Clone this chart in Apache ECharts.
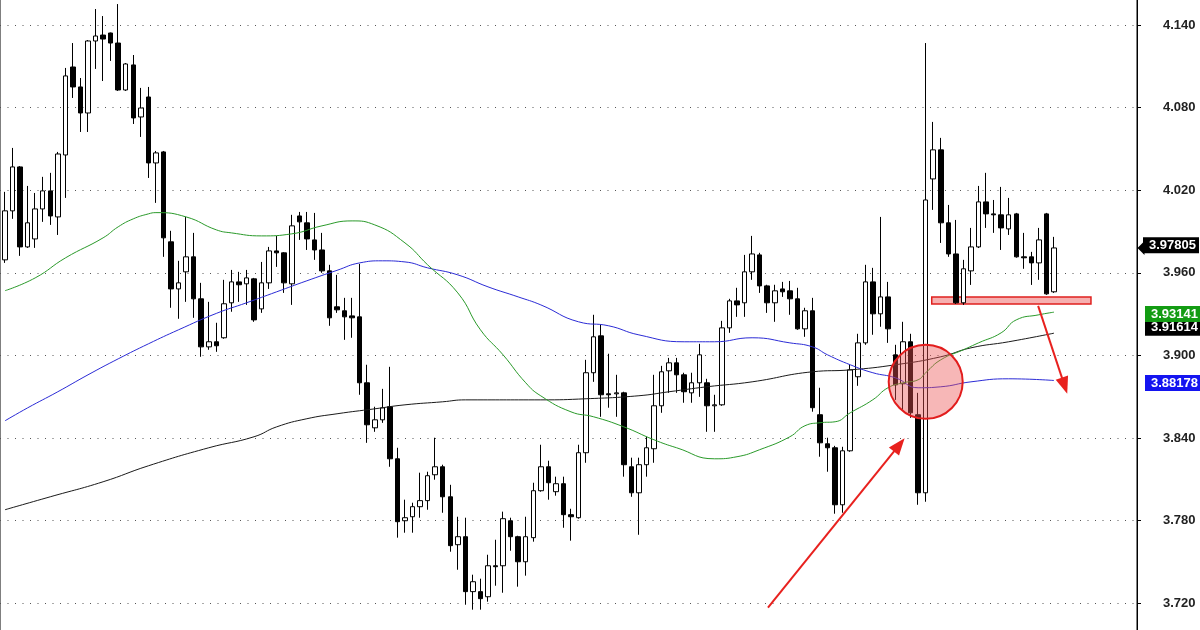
<!DOCTYPE html>
<html><head><meta charset="utf-8">
<script src="https://cdn.jsdelivr.net/npm/echarts@6/dist/echarts.min.js"></script>
<style>html,body{margin:0;padding:0;background:#fff}#c{width:1200px;height:630px}</style>
</head><body><div id="c"></div>
<script>
// ---- candle data (index = bar number) ----
const opens = [3.9694,4.0050,4.0369,3.9788,3.9846,4.0064,4.0195,4.0006,4.0456,4.1095,
4.0950,4.0761,4.1284,4.1327,4.1342,4.1269,4.0928,4.1110,4.0732,4.0877,
4.0398,4.0478,3.9825,3.9483,3.9607,3.9716,3.9411,3.9062,3.9099,3.9128,
3.9382,3.9534,3.9520,3.9556,3.9338,3.9527,3.9759,3.9745,3.9520,4.0013,
3.9963,3.9839,3.9766,3.9614,3.9353,3.9324,3.9287,3.9280,3.8801,3.8474,
3.8532,3.8627,3.8249,3.7799,3.7828,3.7901,3.7945,3.8133,3.8191,3.7973,
3.7625,3.7683,3.7284,3.7284,3.7247,3.7472,3.7472,3.7799,3.7683,3.7501,
3.7676,3.8017,3.8191,3.8010,3.8068,3.7843,3.7821,3.8293,3.8874,3.9142,
3.8721,3.8721,3.8728,3.8191,3.8002,3.8206,3.8322,3.8634,3.8888,3.8946,
3.8859,3.8728,3.8801,3.8801,3.8634,3.8641,3.9200,3.9396,3.9382,3.9607,
3.9730,3.9505,3.9382,3.9483,3.9469,3.9411,3.9193,3.9324,3.8569,3.8358,
3.8329,3.7915,3.8307,3.8845,3.9091,3.9534,3.9302,3.9425,3.9004,3.8794,
3.9099,3.8569,3.8002,4.0282,4.0493,3.9963,3.9737,3.9382,3.9614,3.9788,
4.0115,4.0028,4.0021,3.9919,4.0028,3.9716,3.9716,3.9672,4.0028,3.9462];
const closes = [4.0050,4.0369,3.9788,3.9963,4.0064,4.0195,4.0013,4.0463,4.1030,4.0950,
4.0761,4.1284,4.1320,4.1298,4.1269,4.0928,4.1117,4.0725,4.0797,4.0398,
4.0471,3.9854,3.9483,3.9527,3.9716,3.9411,3.9062,3.9099,3.9070,3.9375,
3.9534,3.9513,3.9563,3.9258,3.9527,3.9759,3.9745,3.9527,3.9941,3.9970,
3.9846,3.9766,3.9614,3.9273,3.9331,3.9280,3.9273,3.8801,3.8496,3.8532,
3.8619,3.8249,3.7792,3.7821,3.7901,3.7945,3.8126,3.8191,3.7973,3.7618,
3.7683,3.7284,3.7356,3.7233,3.7472,3.7465,3.7814,3.7683,3.7501,3.7683,
3.8017,3.8191,3.8075,3.8068,3.7843,3.7828,3.8293,3.8874,3.9135,3.8714,
3.8714,3.8728,3.8206,3.8002,3.8206,3.8329,3.8634,3.8881,3.8946,3.8859,
3.8736,3.8801,3.9004,3.8634,3.8641,3.9200,3.9396,3.9367,3.9607,3.9737,
3.9505,3.9382,3.9469,3.9462,3.9411,3.9193,3.9324,3.8620,3.8365,3.8329,
3.7915,3.8307,3.8895,3.9091,3.9534,3.9302,3.9425,3.9193,3.8786,3.9099,
3.8583,3.8002,4.0129,4.0493,3.9963,3.9737,3.9382,3.9629,3.9788,4.0115,
4.0028,4.0021,3.9926,4.0021,3.9716,3.9709,3.9672,3.9839,3.9447,3.97805];
const lows = [3.9672,3.9992,3.9723,3.9781,3.9781,3.9970,3.9948,3.9875,4.0144,4.0870,
4.0623,4.0623,4.1081,4.0993,4.1139,4.0921,4.0921,4.0681,4.0587,4.0289,
4.0108,3.9716,3.9346,3.9266,3.9389,3.9273,3.8990,3.9041,3.9026,3.9121,
3.9317,3.9389,3.9367,3.9244,3.9309,3.9483,3.9643,3.9454,3.9367,3.9839,
3.9766,3.9694,3.9600,3.9215,3.9309,3.9113,3.9128,3.8714,3.8365,3.8445,
3.8510,3.8191,3.7676,3.7712,3.7712,3.7821,3.7879,3.8097,3.7857,3.7574,
3.7443,3.7189,3.7153,3.7153,3.7211,3.7327,3.7276,3.7581,3.7320,3.7400,
3.7647,3.8010,3.7952,3.7981,3.7748,3.7654,3.7814,3.8220,3.8808,3.8554,
3.8620,3.8554,3.8119,3.7973,3.7697,3.8119,3.8220,3.8583,3.8728,3.8728,
3.8656,3.8656,3.8699,3.8445,3.8445,3.8634,3.9164,3.9280,3.9280,3.9549,
3.9454,3.9309,3.9244,3.9425,3.9295,3.9186,3.9135,3.8591,3.8264,3.8155,
3.7850,3.7857,3.8300,3.8779,3.9077,3.9150,3.9208,3.9091,3.8677,3.8605,
3.8547,3.7915,3.7937,4.0057,3.9817,3.9716,3.9374,3.9367,3.9512,3.9780,
3.9926,3.9890,3.9766,3.9875,3.9710,3.9629,3.9512,3.9549,3.9440,3.9454];
const highs = [4.0188,4.0507,4.0375,4.0231,4.0180,4.0297,4.0326,4.0478,4.1088,4.1269,
4.1015,4.1291,4.1516,4.1465,4.1345,4.1552,4.1124,4.1182,4.0943,4.0950,
4.0485,4.0485,3.9905,3.9687,4.0006,3.9890,3.9527,3.9389,3.9237,3.9549,
3.9621,3.9607,3.9621,3.9563,3.9679,3.9788,3.9868,3.9750,4.0021,4.0042,
4.0042,4.0035,3.9890,3.9658,3.9585,3.9418,3.9418,3.9665,3.8932,3.8627,
3.8757,3.8917,3.8329,3.7952,3.7930,3.8148,3.8155,3.8402,3.8206,3.8060,
3.7828,3.7821,3.7407,3.7378,3.7552,3.7661,3.7865,3.7821,3.7690,3.7828,
3.8075,3.8351,3.8235,3.8119,3.8119,3.7886,3.8351,3.8968,3.9295,3.9222,
3.9012,3.8859,3.8736,3.8257,3.8257,3.8409,3.8859,3.8924,3.8982,3.8982,
3.8874,3.8874,3.9084,3.8830,3.8714,3.9251,3.9411,3.9491,3.9730,3.9868,
3.9745,3.9513,3.9513,3.9534,3.9541,3.9491,3.9346,3.9418,3.8765,3.8402,
3.8343,3.8336,3.8932,3.9157,3.9658,3.9636,4.0006,3.9534,3.9077,3.9244,
3.9157,3.8728,4.1269,4.0696,4.0580,4.0093,3.9984,3.9694,3.9926,4.0231,
4.0326,4.0129,4.0224,4.0144,4.0035,3.9890,3.9752,3.9926,4.0035,3.9861];

// ---- moving averages: [bar index, value] ----
const maGreen = [[0,3.9470],[4,3.9563],[8,3.9708],[13,3.9854],[15,3.9934],[17,3.9992],[19,4.0028],[20,4.0037],
[24,4.0006],[28,3.9912],[30,3.9890],[34,3.9868],[38,3.9883],[42,3.9941],[46,3.9977],[49,3.9948],[53,3.9817],
[56,3.9658],[60,3.9454],[63,3.9186],[66,3.9004],[69,3.8801],[71,3.8706],[75,3.8590],[78,3.8554],[82,3.8481],
[86,3.8387],[89,3.8329],[94,3.8249],[97,3.8264],[100,3.8315],[104,3.8409],[106,3.8489],[108,3.8511],[110,3.8518],
[112,3.8583],[115,3.8678],[117,3.8765],[119,3.8801],[121,3.8823],[122,3.8874],[124,3.8968],[127,3.9041],
[129,3.9091],[132,3.9164],[134,3.9258],[137,3.9295],[139,3.93141]];
const maBlue = [[0,3.8525],[3,3.8619],[7,3.8736],[11,3.8859],[15,3.8975],[19,3.9084],[23,3.9186],[28,3.9305],
[32,3.9382],[36,3.9462],[40,3.9542],[44,3.9618],[47,3.9672],[50,3.9687],[53,3.9679],[56,3.9636],
[60,3.9585],[64,3.9498],[68,3.9425],[71,3.9367],[76,3.9244],[80,3.9215],[84,3.9149],[90,3.9099],[94,3.9099],
[99,3.9128],[104,3.9091],[107,3.9062],[109,3.9004],[112,3.8932],[115,3.8874],[118,3.8837],[121,3.8765],
[124,3.8772],[128,3.8808],[133,3.8830],[139,3.88178]];
const maBlack = [[0,3.7879],[6,3.7973],[13,3.8082],[19,3.8198],[27,3.8329],[33,3.8409],[36,3.8481],[40,3.8540],
[44,3.8576],[49,3.8612],[53,3.8641],[58,3.8663],[61,3.8677],[71,3.8677],[77,3.8685],[84,3.8707],[88,3.8736],
[93,3.8772],[99,3.8808],[107,3.8881],[112,3.8895],[118,3.8932],[124,3.8990],[128,3.9055],[133,3.9099],[139,3.91614]];

// ---- last values shown on the price axis ----
const lastPrice = 3.97805, lastGreen = 3.93141, lastBlack = 3.91614, lastBlue = 3.88178;

// ---- annotations (in data coordinates) ----
const arrowUp = [[101.1, 3.7167], [118.5, 3.8350]];
const arrowDown = [[136.9, 3.9360], [140.4, 3.8780]];
const circleCenter = [122, 3.8808];
const supportBox = [[122.8, 3.9425], [143.9, 3.9374]];

const FONT = 'Liberation Sans, Arial, sans-serif';
const candles = opens.map((o, i) => [i, o, closes[i], lows[i], highs[i]]);

function valueMark(val, bg, dist) {
  return {
    silent: true, symbol: ['none', 'none'], animation: false,
    lineStyle: { color: 'rgba(0,0,0,0)', width: 1, type: 'solid' },
    label: {
      show: true, position: 'end', distance: dist,
      formatter: () => val.toFixed(5),
      backgroundColor: bg, color: '#fff', fontWeight: 'bold', fontSize: 13,
      fontFamily: FONT, padding: [2, 3, 1, 6], lineHeight: 13
    },
    emphasis: { disabled: true },
    data: [{ yAxis: val }]
  };
}

const chart = echarts.init(document.getElementById('c'), null, { renderer: 'canvas' });
chart.setOption({
  animation: false,
  backgroundColor: '#fff',
  grid: { left: 0, right: 63, top: -57.6, bottom: -55.8, show: true, borderColor: '#000', borderWidth: 1,
          backgroundColor: 'transparent', outerBoundsMode: 'none', containLabel: false },
  xAxis: { type: 'value', min: -0.6625, max: 150, show: false },
  yAxis: {
    type: 'value', position: 'right', min: 3.66, max: 4.20, interval: 0.06, scale: true,
    axisLine: { show: true, onZero: false, lineStyle: { color: '#000', width: 1 } },
    axisTick: { show: true, length: 4, lineStyle: { color: '#000' } },
    axisLabel: { margin: 26, color: '#222', fontWeight: 'bold', fontSize: 13, fontFamily: FONT,
                 showMinLabel: false, showMaxLabel: false, formatter: v => v.toFixed(3) },
    splitLine: { show: true, lineStyle: { color: '#555', type: [1, 6.5], width: 1 } }
  },
  series: [
    {
      type: 'candlestick', data: candles, encode: { x: 0, y: [1, 2, 3, 4] },
      barWidth: 5, silent: true,
      itemStyle: { color: '#fff', color0: '#000', borderColor: '#000', borderColor0: '#000', borderWidth: 1 },
      markLine: valueMark(lastPrice, '#000', 6),
      markPoint: {
        silent: true, symbol: 'triangle', symbolSize: [14, 7], symbolRotate: 90, symbolOffset: [4, 0],
        itemStyle: { color: '#000' }, label: { show: false },
        data: [{ coord: [150, lastPrice] }]
      }
    },
    { type: 'line', data: maBlack, showSymbol: false, smooth: 0.5, silent: true,
      lineStyle: { color: '#1a1a1a', width: 1 }, z: 3, markLine: valueMark(lastBlack, '#000', 8) },
    { type: 'line', data: maBlue, showSymbol: false, smooth: 0.5, silent: true,
      lineStyle: { color: '#2b2bd6', width: 1 }, z: 3, markLine: valueMark(lastBlue, '#1414f0', 8) },
    { type: 'line', data: maGreen, showSymbol: false, smooth: 0.5, silent: true,
      lineStyle: { color: '#2a9a2a', width: 1 }, z: 3, markLine: valueMark(lastGreen, '#139c13', 8) },
    {
      type: 'scatter', data: [circleCenter], symbolSize: 74, silent: true, z: 5,
      itemStyle: { color: 'rgba(236,84,84,0.42)', borderColor: '#e21d1d', borderWidth: 2, opacity: 1 },
      markArea: {
        silent: true,
        itemStyle: { color: '#f6b0b0', borderColor: '#e0201e', borderWidth: 1.5 },
        data: [[{ coord: supportBox[0] }, { coord: supportBox[1] }]]
      },
      markLine: {
        silent: true, symbol: ['none', 'triangle'], symbolSize: [13, 17], animation: false,
        lineStyle: { color: '#e8211e', width: 2, type: 'solid' },
        label: { show: false },
        data: [
          [{ coord: arrowUp[0] }, { coord: arrowUp[1] }],
          [{ coord: arrowDown[0] }, { coord: arrowDown[1] }]
        ]
      }
    }
  ]
});
</script></body></html>
